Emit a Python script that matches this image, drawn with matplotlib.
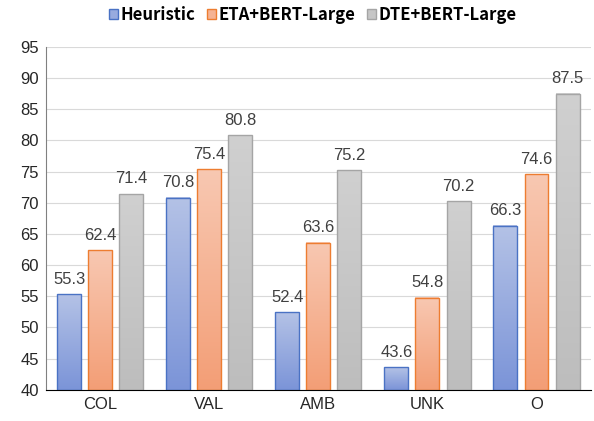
import numpy as np
import matplotlib.pyplot as plt
import matplotlib.colors as mcolors
from matplotlib.patches import Patch

# Data
categories = ["COL", "VAL", "AMB", "UNK", "O"]
series_names = ["Heuristic", "ETA+BERT-Large", "DTE+BERT-Large"]
heuristic = [55.3, 70.8, 52.4, 43.6, 66.3]
eta_bert = [62.4, 75.4, 63.6, 54.8, 74.6]
dte_bert = [71.4, 80.8, 75.2, 70.2, 87.5]

# (top colour, bottom colour, edge colour)
styles = [
    ("#b4c2e6", "#7b94d8", "#4a72c4"),
    ("#f8c8b2", "#f39e76", "#ed7d31"),
    ("#d0d0d0", "#bdbdbd", "#a5a5a5"),
]

plt.rcParams['font.family'] = ['Liberation Sans', 'DejaVu Sans']

fig = plt.figure(figsize=(5.94, 4.21), dpi=100)
ax = fig.add_axes([0.077, 0.074, 0.918, 0.815])

ymin, ymax = 40, 95
x = np.arange(len(categories))
width = 0.22
offsets = [-0.285, 0, 0.285]
grad = np.linspace(0, 1, 256).reshape(-1, 1)

for vals, off, (top, bot, edge) in zip([heuristic, eta_bert, dte_bert], offsets, styles):
    cmap = mcolors.LinearSegmentedColormap.from_list("g", [bot, top])
    bars = ax.bar(x + off, np.array(vals) - ymin, width, bottom=ymin,
                  facecolor="none", edgecolor=edge, linewidth=1.0, zorder=3)
    for b, v in zip(bars, vals):
        x0 = b.get_x()
        ax.imshow(grad, cmap=cmap, origin="lower", aspect="auto",
                  extent=[x0, x0 + width, ymin, v], zorder=2)
        ax.text(b.get_x() + width / 2, v + 1.2, f"{v}", ha="center", va="bottom",
                fontsize=12, color="#404040")

ax.set_xlim(-0.5, 4.5)
ax.set_ylim(ymin, ymax)
ax.set_yticks(range(40, 96, 5))
ax.set_xticks(x)
ax.set_xticklabels(categories)
ax.tick_params(axis="both", length=0, labelsize=12, colors="#262626", pad=5)
ax.grid(axis="y", color="#d9d9d9", linewidth=0.8, zorder=0)
ax.set_axisbelow(True)

for s in ["top", "right"]:
    ax.spines[s].set_visible(False)
ax.spines["left"].set_color("#808080")
ax.spines["bottom"].set_color("#000000")
ax.spines["bottom"].set_zorder(4)

handles = [Patch(facecolor=mcolors.to_hex(np.mean([mcolors.to_rgb(t), mcolors.to_rgb(b)], axis=0)),
                 edgecolor=e, label=n) for n, (t, b, e) in zip(series_names, styles)]
fig.legend(handles=handles, loc="upper center", bbox_to_anchor=(0.527, 1.022), ncol=3,
           frameon=False, handlelength=0.55, handleheight=0.55, handletextpad=0.15,
           columnspacing=0.7, prop={"family": ["Noto Sans CJK SC", "DejaVu Sans"],
                                    "weight": "bold", "size": 12})

fig.savefig("out.png", dpi=100)
